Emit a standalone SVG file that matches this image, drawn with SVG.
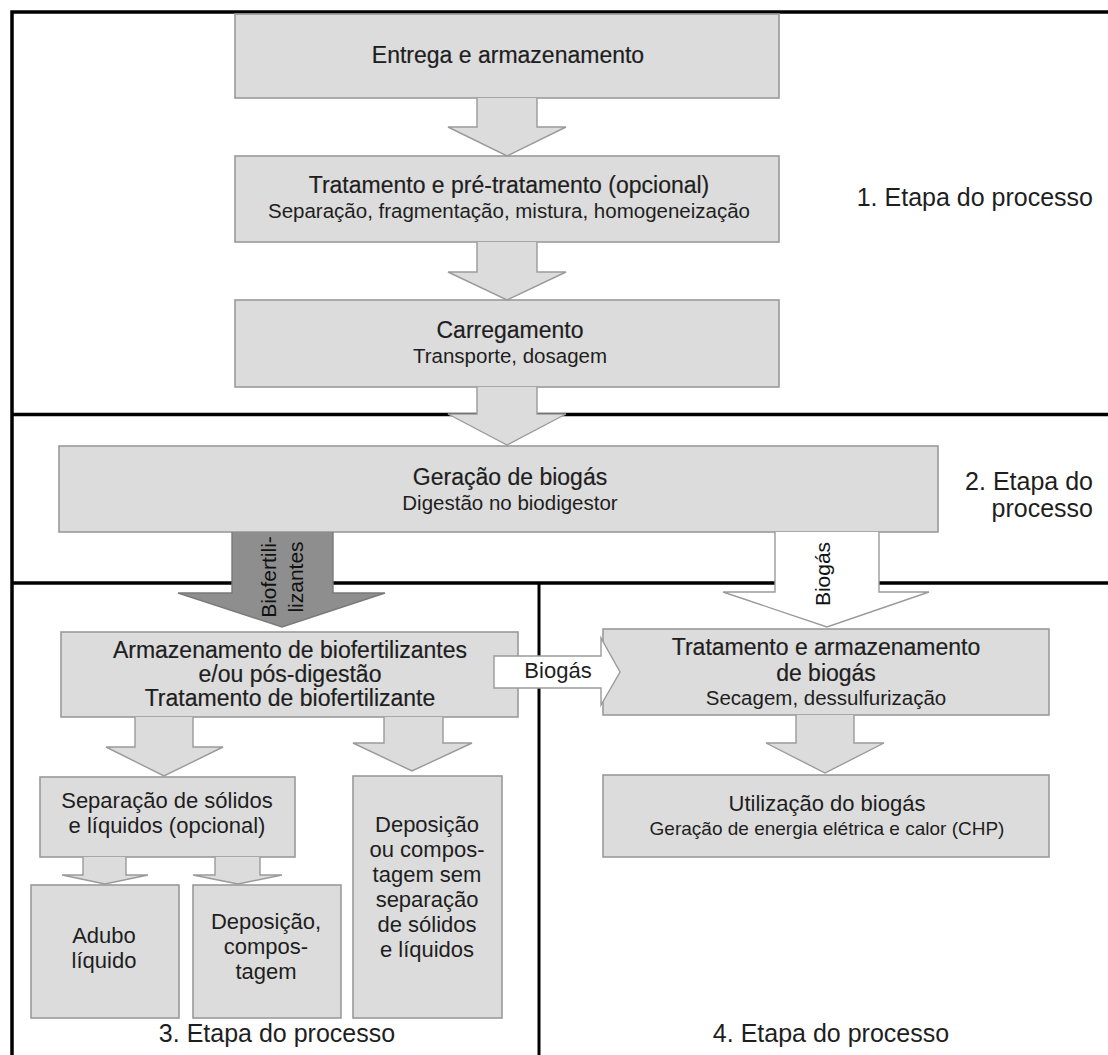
<svg xmlns="http://www.w3.org/2000/svg" width="1108" height="1055" viewBox="0 0 1108 1055">
<style>
.box{fill:#dcdcdc;stroke:#9a9a9a;stroke-width:1.6}
.arr{fill:#dcdcdc;stroke:#9a9a9a;stroke-width:1.4}
.arrw{fill:#ffffff;stroke:#9a9a9a;stroke-width:1.4}
.arrd{fill:#8e8e8e;stroke:#7a7a7a;stroke-width:1.4}
.div{stroke:#000;stroke-width:3.5;fill:none}
.t{font-family:"Liberation Sans",Arial,sans-serif;font-size:23px;fill:#1e1e1e;text-anchor:middle;stroke:#1e1e1e;stroke-width:0.2}
.s{font-family:"Liberation Sans",Arial,sans-serif;font-size:20.5px;fill:#1e1e1e;text-anchor:middle}
.h{font-family:"Liberation Sans",Arial,sans-serif;font-size:22px;fill:#1e1e1e;text-anchor:middle}
.hs{font-family:"Liberation Sans",Arial,sans-serif;font-size:19px;fill:#1e1e1e;text-anchor:middle}
.stage{font-family:"Liberation Sans",Arial,sans-serif;font-size:25px;fill:#1e1e1e}
.rot{font-family:"Liberation Sans",Arial,sans-serif;font-size:21px;fill:#111;text-anchor:middle}
</style>
<rect x="0" y="0" width="1108" height="1055" fill="#fff"/>

<g id="frame">
<path class="div" d="M12,1055 V12 H1108"/>
<path class="div" d="M12,414.5 H1108"/>
<path class="div" d="M12,583 H1108"/>
<path class="div" d="M539,583 V1055" style="stroke-width:3"/>
</g>

<g id="labels">
<text class="stage" x="1093" y="206" text-anchor="end">1. Etapa do processo</text>
<text class="stage" x="1093" y="490" text-anchor="end">2. Etapa do</text>
<text class="stage" x="1093" y="517" text-anchor="end">processo</text>
<text class="stage" x="277" y="1042" text-anchor="middle">3. Etapa do processo</text>
<text class="stage" x="831" y="1042" text-anchor="middle">4. Etapa do processo</text>
</g>

<g id="n-entrega">
<rect class="box" x="235" y="14" width="544" height="84"/>
<text class="t" x="508" y="63">Entrega e armazenamento</text>
</g>
<g id="n-pretratamento">
<rect class="box" x="235" y="156" width="544" height="86"/>
<text class="t" x="509" y="193">Tratamento e pré-tratamento (opcional)</text>
<text class="s" x="509" y="218">Separação, fragmentação, mistura, homogeneização</text>
</g>
<g id="n-carregamento">
<rect class="box" x="235" y="300" width="544" height="87"/>
<text class="t" x="510" y="338">Carregamento</text>
<text class="s" x="510" y="363">Transporte, dosagem</text>
</g>
<g id="n-geracao">
<rect class="box" x="59" y="446" width="879" height="86"/>
<text class="t" x="510" y="485">Geração de biogás</text>
<text class="s" x="510" y="510">Digestão no biodigestor</text>
</g>
<g id="n-armazenamento">
<rect class="box" x="61" y="632" width="457" height="85"/>
<text class="t" x="290" y="658">Armazenamento de biofertilizantes</text>
<text class="t" x="290" y="682">e/ou pós-digestão</text>
<text class="t" x="290" y="706">Tratamento de biofertilizante</text>
</g>
<g id="n-tratbiogas">
<rect class="box" x="603" y="629" width="446" height="86"/>
<text class="t" x="826" y="655">Tratamento e armazenamento</text>
<text class="t" x="826" y="681">de biogás</text>
<text class="s" x="826" y="705">Secagem, dessulfurização</text>
</g>
<g id="n-utilizacao">
<rect class="box" x="603" y="775" width="446" height="82"/>
<text class="h" x="827" y="811">Utilização do biogás</text>
<text class="hs" x="827" y="835">Geração de energia elétrica e calor (CHP)</text>
</g>
<g id="n-separacao">
<rect class="box" x="40" y="777" width="255" height="80"/>
<text class="h" x="167" y="808">Separação de sólidos</text>
<text class="h" x="167" y="833">e líquidos (opcional)</text>
</g>
<g id="n-deposicao-sem">
<rect class="box" x="353" y="776" width="149" height="242"/>
<text class="h" x="427" y="832">Deposição</text>
<text class="h" x="427" y="857">ou compos-</text>
<text class="h" x="427" y="882">tagem sem</text>
<text class="h" x="427" y="907">separação</text>
<text class="h" x="427" y="932">de sólidos</text>
<text class="h" x="427" y="957">e líquidos</text>
</g>
<g id="n-adubo">
<rect class="box" x="31" y="885" width="148" height="133"/>
<text class="h" x="104" y="943">Adubo</text>
<text class="h" x="104" y="968">líquido</text>
</g>
<g id="n-deposicao">
<rect class="box" x="193" y="885" width="148" height="133"/>
<text class="h" x="266" y="929">Deposição,</text>
<text class="h" x="266" y="954">compos-</text>
<text class="h" x="266" y="979">tagem</text>
</g>

<g id="connectors">
<path class="arr" d="M477,98 V127 H448 L507,156 L566,127 H537 V98"/>
<path class="arr" d="M477,242 V272 H448 L507,300 L566,272 H537 V242"/>
<path class="arr" d="M477,387 V414 H448 L507,445 L566,414 H537 V387"/>
<path class="arrd" d="M232,532 V593 H178 L282,627 L385,593 H333 V532"/>
<text class="rot" transform="translate(276,577) rotate(-90)">Biofertili-</text>
<text class="rot" transform="translate(303,577) rotate(-90)">lizantes</text>
<path class="arrw" d="M775,532 V592 H723 L827,627 L929,592 H879 V532"/>
<text class="rot" transform="translate(830,574) rotate(-90)">Biogás</text>
<path class="arrw" d="M494,656 H601 V638 L620,672 L601,705 V688 H494 Z"/>
<text class="h" x="558" y="678">Biogás</text>
<path class="arr" d="M796,715 V743 H766 L825,773 L884,743 H854 V715"/>
<path class="arr" d="M135,717 V747 H106 L164,776 L223,747 H193 V717"/>
<path class="arr" d="M384,717 V743 H353 L412,771 L472,743 H443 V717"/>
<path class="arr" d="M83,857 V875 H62 L105,884 L148,875 H126 V857"/>
<path class="arr" d="M215,857 V875 H193 L238,884 L282,875 H260 V857"/>
</g>
</svg>
